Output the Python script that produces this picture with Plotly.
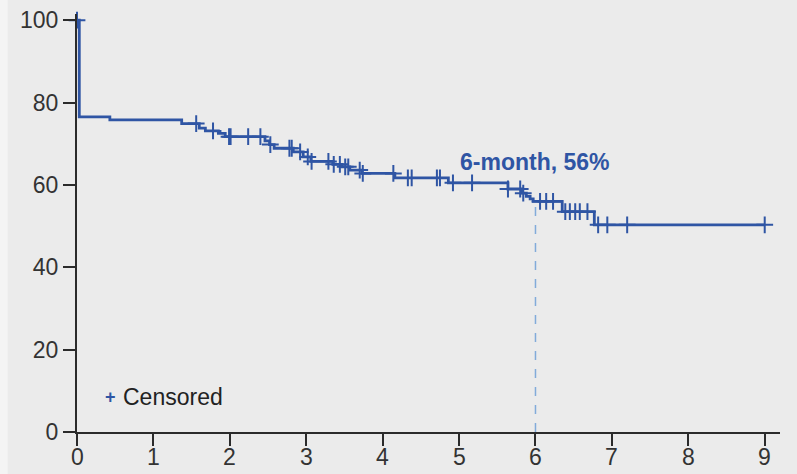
import numpy as np
import plotly.graph_objects as go

# Kaplan-Meier step estimate: event times (months) and survival (%) after each step
step_times = [0.0, 0.03, 0.43, 1.37, 1.60, 1.68, 1.85, 1.94, 2.46, 2.52, 2.58,
              2.83, 2.96, 3.06, 3.35, 3.47, 3.57, 3.73, 4.16, 4.86, 5.64,
              5.82, 5.88, 5.93, 5.97, 6.35, 6.77]
step_surv = [100.0, 76.5, 75.8, 74.9, 73.8, 73.1, 72.5, 71.7, 70.7, 69.8, 68.9,
             68.0, 66.8, 65.7, 65.0, 64.4, 63.6, 62.8, 61.7, 60.5, 59.0,
             58.0, 57.2, 56.6, 56.0, 53.5, 50.3]
end_time = 9.0

# Censoring times (months)
censor_times = [0.0, 1.56, 1.78, 1.99, 2.01, 2.24, 2.40, 2.53, 2.78, 2.81, 2.92,
                3.02, 3.07, 3.29, 3.36, 3.44, 3.51, 3.55, 3.70, 3.74, 4.14,
                4.33, 4.38, 4.71, 4.75, 4.92, 5.17, 5.64, 5.80, 5.84, 6.06,
                6.14, 6.23, 6.39, 6.45, 6.52, 6.58, 6.68, 6.82, 6.94, 7.20, 9.0]

landmark_time = 6
landmark_surv = 56

x_ticks = list(range(0, 10))
y_ticks = list(range(0, 101, 20))

curve_color = "#2f55a4"
axis_color = "#2b2b2b"
label_color = "#333333"
bg = "#ebebeb"
font_family = "Liberation Sans, Arial, Helvetica, sans-serif"

line_x = step_times + [end_time]
line_y = step_surv + [step_surv[-1]]

st = np.array(step_times)
sv = np.array(step_surv)
censor_y = [float(sv[np.searchsorted(st, t, side="right") - 1]) for t in censor_times]

fig = go.Figure()

# dashed landmark line at 6 months
fig.add_trace(go.Scatter(
    x=[landmark_time, landmark_time], y=[0, landmark_surv], mode="lines",
    line=dict(color="#82abda", width=1.5, dash="dash"), hoverinfo="skip",
    showlegend=False))

fig.add_trace(go.Scatter(
    x=line_x, y=line_y, mode="lines", line_shape="hv",
    line=dict(color=curve_color, width=2.8), showlegend=False, cliponaxis=False))

fig.add_trace(go.Scatter(
    x=censor_times, y=censor_y, mode="markers",
    marker=dict(symbol="cross-thin", size=12,
                line=dict(color=curve_color, width=2)),
    showlegend=False, cliponaxis=False))

fig.add_annotation(
    x=landmark_time, y=65.5, xref="x", yref="y",
    text=f"<b>{landmark_time}-month, {landmark_surv}%</b>", showarrow=False,
    font=dict(family=font_family, size=23, color=curve_color))

# x tick labels sit close under the tick marks
for v in x_ticks:
    fig.add_annotation(
        x=v, y=0, xref="x", yref="y", yanchor="top", xanchor="center",
        yshift=-10, text=str(v), showarrow=False,
        font=dict(family=font_family, size=23, color=label_color))

# legend key
fig.add_annotation(
    x=0.047, y=0.084, xref="paper", yref="paper", xanchor="center",
    yanchor="middle", text="<b>+</b>", showarrow=False,
    font=dict(family=font_family, size=18, color=curve_color))
fig.add_annotation(
    x=0.063, y=0.084, xref="paper", yref="paper", xanchor="left",
    yanchor="middle", text="Censored", showarrow=False,
    font=dict(family=font_family, size=23, color="#222222"))

# slightly lighter strip along the left edge of the page
fig.add_shape(type="rect", xref="paper", yref="paper",
              x0=-0.1095, x1=-0.0985, y0=-0.11, y1=1.04,
              fillcolor="#f4f4f4", line_width=0, layer="below")

fig.update_layout(
    width=797, height=474,
    margin=dict(l=77, r=17, t=14, b=42),
    paper_bgcolor=bg, plot_bgcolor=bg,
    font=dict(family=font_family, size=23, color=label_color),
    xaxis=dict(range=[0, 9.2], tickvals=x_ticks, showticklabels=False,
               showgrid=False, zeroline=False,
               showline=True, linecolor=axis_color, linewidth=2, automargin=False,
               ticks="outside", ticklen=12, tickwidth=2, tickcolor=axis_color),
    yaxis=dict(range=[0, 101.5], tickvals=y_ticks, showgrid=False, zeroline=False,
               showline=True, linecolor=axis_color, linewidth=2, automargin=False,
               ticks="outside", ticklen=12, tickwidth=2, tickcolor=axis_color,
               tickfont=dict(size=23, color=label_color)),
)

fig.write_html("out.html")
